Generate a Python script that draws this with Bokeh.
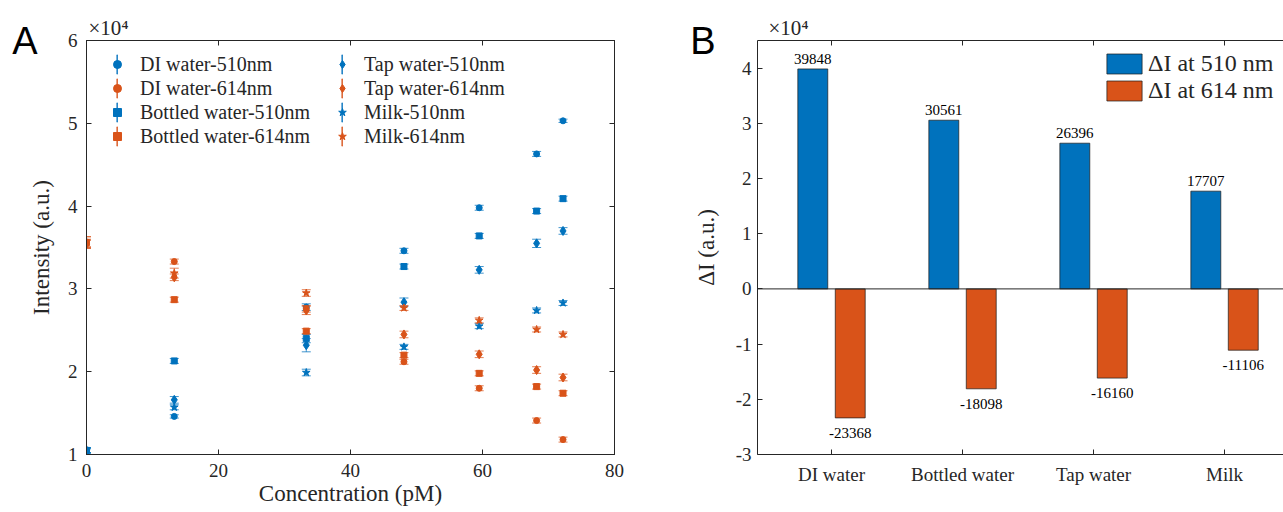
import numpy as np
from bokeh.plotting import figure
from bokeh.models import (Range1d, LinearAxis, Legend, LegendItem,
                          FixedTicker, ColumnDataSource, Span)
from bokeh.layouts import row
from bokeh.embed import file_html
from bokeh.resources import INLINE
from bokeh.core.properties import value

# ---------------- data (panel A) ----------------
concentration = [0, 13.3, 33.3, 48.1, 59.5, 68.2, 72.2]          # pM
# intensities in units of 1e4 a.u.
di_510      = [1.05, 1.46, 2.78, 3.46, 3.98, 4.63, 5.03]
di_614      = [3.55, 3.33, 2.76, 2.12, 1.80, 1.41, 1.18]
bottled_510 = [1.05, 2.13, 2.40, 3.27, 3.64, 3.94, 4.09]
bottled_614 = [3.56, 2.87, 2.49, 2.20, 1.98, 1.82, 1.74]
tap_510     = [1.05, 1.66, 2.32, 2.84, 3.23, 3.55, 3.70]
tap_614     = [3.54, 3.14, 2.74, 2.45, 2.21, 2.02, 1.93]
milk_510    = [1.05, 1.57, 1.99, 2.30, 2.55, 2.74, 2.83]
milk_614    = [3.57, 3.19, 2.95, 2.77, 2.62, 2.51, 2.45]

di_510_err      = [0.03, 0.02, 0.04, 0.03, 0.03, 0.03, 0.02]
di_614_err      = [0.05, 0.03, 0.04, 0.03, 0.03, 0.03, 0.03]
bottled_510_err = [0.03, 0.03, 0.05, 0.03, 0.03, 0.03, 0.03]
bottled_614_err = [0.07, 0.03, 0.03, 0.03, 0.03, 0.03, 0.03]
tap_510_err     = [0.03, 0.04, 0.08, 0.05, 0.04, 0.05, 0.04]
tap_614_err     = [0.05, 0.04, 0.05, 0.04, 0.04, 0.04, 0.04]
milk_510_err    = [0.03, 0.03, 0.04, 0.03, 0.03, 0.03, 0.03]
milk_614_err    = [0.06, 0.06, 0.04, 0.03, 0.03, 0.03, 0.03]

x_ticks_a = [0, 20, 40, 60, 80]
y_ticks_a = [1, 2, 3, 4, 5, 6]

# ---------------- data (panel B) ----------------
samples = ["DI water", "Bottled water", "Tap water", "Milk"]
delta_510 = [39848, 30561, 26396, 17707]
delta_614 = [-23368, -18098, -16160, -11106]
y_ticks_b = [-3, -2, -1, 0, 1, 2, 3, 4]

# ---------------- style ----------------
BLUE = "#0072BD"
ORANGE = "#D95319"
INK = "#262626"
FONT = "Liberation Serif"


def style_axis(ax, ticks, labels=True, overrides=None, tick_std=6, lab_std=4):
    ax.ticker = FixedTicker(ticks=ticks)
    ax.major_tick_in = 5
    ax.major_tick_out = 0
    ax.minor_tick_line_color = None
    ax.axis_line_color = INK
    ax.major_tick_line_color = INK
    ax.major_label_text_font = FONT
    if labels:
        ax.major_label_text_color = INK
        ax.major_label_text_font_size = "19px"
        ax.major_label_standoff = tick_std
    else:
        ax.major_label_text_color = None
        ax.major_label_text_font_size = "0px"
        ax.major_label_standoff = 0
    ax.axis_label_text_font = FONT
    ax.axis_label_text_font_style = "normal"
    ax.axis_label_text_font_size = "23px"
    ax.axis_label_text_color = INK
    ax.axis_label_standoff = lab_std
    if overrides:
        ax.major_label_overrides = overrides


def frame_setup(p, outline=True):
    p.xgrid.visible = False
    p.ygrid.visible = False
    p.outline_line_color = INK if outline else None
    p.background_fill_color = "white"
    p.border_fill_color = "white"


def corner_title(p, offset):
    p.title.text = "×10⁴"
    p.title.align = "left"
    p.title.offset = offset
    p.title.standoff = 1
    p.title.text_font = FONT
    p.title.text_font_style = "normal"
    p.title.text_font_size = "21px"
    p.title.text_color = INK


def panel_letter(p, letter, ytop, standoff):
    # an outer, line-less left axis whose single tick label is the panel letter
    ax = LinearAxis(ticker=FixedTicker(ticks=[ytop]),
                    major_label_overrides={ytop: letter})
    ax.axis_line_color = None
    ax.major_tick_line_color = None
    ax.minor_tick_line_color = None
    ax.major_tick_in = 0
    ax.major_tick_out = 0
    ax.major_label_text_font = "Liberation Sans"
    ax.major_label_text_font_size = "38px"
    ax.major_label_text_color = "black"
    ax.major_label_standoff = standoff
    p.add_layout(ax, "left")


# ================= Panel A =================
p1 = figure(width=680, height=510, x_range=Range1d(0, 80), y_range=Range1d(1, 6),
            output_backend="svg", toolbar_location=None,
            min_border_left=86, min_border_right=66, min_border_top=40, min_border_bottom=56)
frame_setup(p1)
corner_title(p1, 2)
p1.xaxis.axis_label = "Concentration (pM)"
p1.yaxis.axis_label = "Intensity (a.u.)"
top1 = LinearAxis()
right1 = LinearAxis()
p1.add_layout(top1, "above")
p1.add_layout(right1, "right")
style_axis(p1.below[0], x_ticks_a, tick_std=9, lab_std=1)
style_axis(p1.left[0], y_ticks_a, tick_std=9, lab_std=11)
style_axis(top1, x_ticks_a, labels=False)
style_axis(right1, y_ticks_a, labels=False)
panel_letter(p1, "A", y_ticks_a[-1], -12)

series = [
    ("DI water-510nm", di_510, di_510_err, BLUE, "circle", 6),
    ("DI water-614nm", di_614, di_614_err, ORANGE, "circle", 6),
    ("Bottled water-510nm", bottled_510, bottled_510_err, BLUE, "square", 6),
    ("Bottled water-614nm", bottled_614, bottled_614_err, ORANGE, "square", 6),
    ("Tap water-510nm", tap_510, tap_510_err, BLUE, "diamond", 9),
    ("Tap water-614nm", tap_614, tap_614_err, ORANGE, "diamond", 9),
    ("Milk-510nm", milk_510, milk_510_err, BLUE, "star", 8),
    ("Milk-614nm", milk_614, milk_614_err, ORANGE, "star", 8),
]

marker_items = []
for name, vals, errs, color, marker, size in series:
    v = np.array(vals)
    e = np.array(errs)
    src = ColumnDataSource(dict(x=concentration, y=v, lo=v - e, hi=v + e))
    p1.segment(x0="x", y0="lo", x1="x", y1="hi", source=src,
               line_color=color, line_width=1, line_alpha=0.75)
    p1.scatter(x="x", y="lo", source=src, marker="dash", size=9,
               line_color=color, line_width=1, line_alpha=0.75)
    p1.scatter(x="x", y="hi", source=src, marker="dash", size=9,
               line_color=color, line_width=1, line_alpha=0.75)
    r = p1.scatter(x="x", y="y", source=src, marker=marker, size=size,
                   fill_color=color, line_color=color)
    marker_items.append(LegendItem(label=name, renderers=[r]))

# legend-only renderers (one NaN row, nothing drawn in the plot) for error-bar strokes
nan_src = dict(left=[np.nan], right=[np.nan], top=[np.nan], bottom=[np.nan])
bar_blue = p1.quad(source=ColumnDataSource(nan_src), left="left", right="right",
                   top="top", bottom="bottom", fill_color=BLUE, line_color=BLUE,
                   line_width=0.6, line_alpha=0.8, fill_alpha=0.8)
bar_orange = p1.quad(source=ColumnDataSource(dict(nan_src)), left="left", right="right",
                     top="top", bottom="bottom", fill_color=ORANGE, line_color=ORANGE,
                     line_width=0.6, line_alpha=0.8, fill_alpha=0.8)


def make_legend(items, loc, gw, gh, standoff, fsize, show_text=True):
    return Legend(items=items, location=loc, orientation="vertical",
                  glyph_width=gw, glyph_height=gh, label_height=gh, spacing=0,
                  padding=0, margin=0, label_standoff=standoff,
                  border_line_alpha=0, background_fill_alpha=0,
                  label_text_font=FONT, label_text_font_size=fsize,
                  label_text_color=INK if show_text else None)


LEG_Y = 306
for x0 in (21, 246):
    bars = [LegendItem(label=" ", renderers=[bar_blue if i % 2 == 0 else bar_orange])
            for i in range(4)]
    p1.add_layout(make_legend(bars, (x0 + 9, LEG_Y), 2, 24, 2, "20px", show_text=False))
for col, x0, so in ((0, 21, 13), (1, 246, 12)):
    p1.add_layout(make_legend(marker_items[col * 4:(col + 1) * 4], (x0, LEG_Y), 20, 24, so, "20px"))

# ================= Panel B =================
# the axes box runs past the right edge of the picture, so no right side is drawn
p2 = figure(width=603, height=510, x_range=Range1d(0.435, 4.45), y_range=Range1d(-3, 4.5),
            output_backend="svg", toolbar_location=None,
            min_border_left=77, min_border_right=0, min_border_top=40, min_border_bottom=56)
frame_setup(p2, outline=False)
corner_title(p2, 11)
p2.yaxis.axis_label = "ΔI (a.u.)"
top2 = LinearAxis()
p2.add_layout(top2, "above")
pos = np.arange(1, len(samples) + 1)
style_axis(p2.below[0], list(pos), overrides={int(i): s for i, s in zip(pos, samples)}, tick_std=9)
style_axis(p2.left[0], y_ticks_b, overrides={t: str(t) for t in y_ticks_b}, tick_std=6, lab_std=14)
style_axis(top2, list(pos), labels=False)
panel_letter(p2, "B", 4.5, -25)

p2.add_layout(Span(location=0, dimension="width", line_color=INK, line_width=1))

GROUP_OFF = 0.1429
BAR_W = 0.2286
s510 = ColumnDataSource(dict(x=pos - GROUP_OFF, top=np.array(delta_510) / 1e4,
                             lab=[str(v) for v in delta_510]))
s614 = ColumnDataSource(dict(x=pos + GROUP_OFF, top=np.array(delta_614) / 1e4,
                             lab=[str(v) for v in delta_614]))
b1 = p2.vbar(x="x", top="top", bottom=0, width=BAR_W, source=s510,
             fill_color=BLUE, line_color="#1a1a1a", line_width=0.7)
b2 = p2.vbar(x="x", top="top", bottom=0, width=BAR_W, source=s614,
             fill_color=ORANGE, line_color="#1a1a1a", line_width=0.7)
p2.text(x="x", y="top", text="lab", source=s510, text_font=value(FONT),
        text_font_size="15px", text_color="black", text_align="center",
        text_baseline="bottom", y_offset=-5)
p2.text(x="x", y="top", text="lab", source=s614, text_font=value(FONT),
        text_font_size="15px", text_color="black", text_align="center",
        text_baseline="top", y_offset=10)

leg2 = make_legend([LegendItem(label="ΔI at 510 nm", renderers=[b1]),
                    LegendItem(label="ΔI at 614 nm", renderers=[b2])],
                   (345, 350), 44, 25, 2, "24px")
p2.add_layout(leg2)

layout = row(p1, p2)
open("out.html", "w").write(file_html(layout, INLINE))
